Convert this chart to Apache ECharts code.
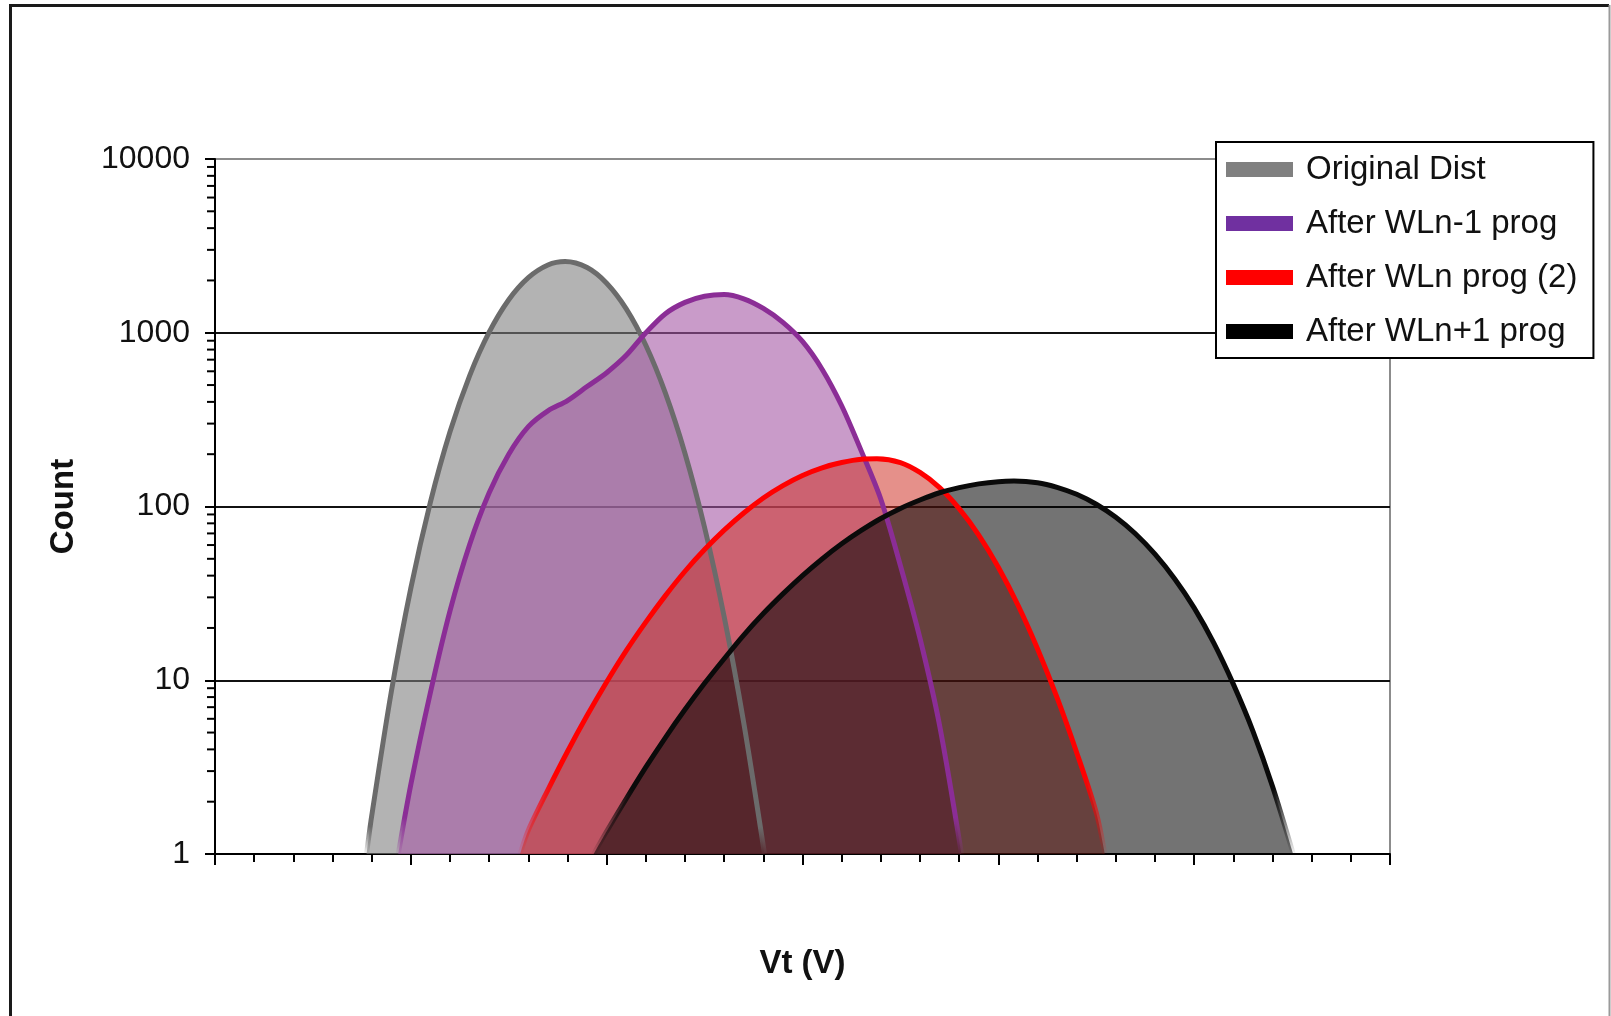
<!DOCTYPE html>
<html>
<head>
<meta charset="utf-8">
<script src="https://cdn.jsdelivr.net/npm/echarts@6/dist/echarts.min.js"></script>
<style>
  html, body { margin: 0; padding: 0; background: #fff; }
  #chart { width: 1611px; height: 1016px; }
</style>
</head>
<body>
<div id="chart"></div>
<script>
// Vt distributions: [Vt step, cell count]
const originalDist = [[3.87,1],[4.0,1.65],[4.5,8.55],[5.0,33.9],[5.5,106],[6.0,269],[6.5,565],[7.0,1007],[7.5,1549],[8.0,2075],[8.5,2455],[8.94,2570],[9.5,2373],[10.0,1928],[10.5,1372],[11.0,847],[11.5,449],[12.0,202],[12.5,75.7],[13.0,23.2],[13.5,5.69],[14.03,1]];
const afterWLnMinus1 = [[4.68,1],[5.0,2.51],[5.5,8.51],[6.0,25.1],[6.5,60.3],[7.0,120],[7.5,200],[8.0,288],[8.5,355],[9.0,407],[9.5,490],[10.0,589],[10.5,741],[11.0,1000],[11.5,1288],[12.0,1496],[12.5,1622],[13.0,1660],[13.5,1567],[14.0,1380],[14.5,1148],[15.0,891],[15.5,617],[16.0,380],[16.5,209],[17.0,110],[17.5,45.7],[18.0,17.4],[18.5,5.5],[19.06,1]];
const afterWLn2 = [[7.79,1],[8.0,1.37],[8.5,2.34],[9.0,3.89],[9.5,6.26],[10.0,9.77],[10.5,14.8],[11.0,21.6],[11.5,30.7],[12.0,42.4],[12.5,56.5],[13.0,73.1],[13.5,91.8],[14.0,112],[14.5,132],[15.0,151],[15.5,167],[16.0,179],[16.5,187],[16.9,188],[17.5,179],[18.0,157],[18.5,128.5],[19.0,97.3],[19.5,68.5],[20.0,44.7],[20.5,27.1],[21.0,15.2],[21.5,7.94],[22.0,3.84],[22.5,1.73],[22.72,1]];
const afterWLnPlus1 = [[9.67,1],[10.0,1.35],[10.5,2.08],[11.0,3.16],[11.5,4.68],[12.0,6.78],[12.5,9.6],[13.0,13.3],[13.5,18.2],[14.0,24.2],[14.5,31.4],[15.0,40],[15.5,49.9],[16.0,61],[16.5,72.8],[17.0,85.3],[17.5,97.5],[18.0,109],[18.5,120],[19.0,128.5],[19.5,135],[20.0,139],[20.4,140],[21.0,137],[21.5,129],[22.0,117.5],[22.5,103],[23.0,86.7],[23.5,69.7],[24.0,53.2],[24.5,38.4],[25.0,26.1],[25.5,16.4],[26.0,9.5],[26.5,5.1],[27.0,2.45],[27.53,1]];

const seriesNames = ['Original Dist', 'After WLn-1 prog', 'After WLn prog (2)', 'After WLn+1 prog'];
const seriesData = [originalDist, afterWLnMinus1, afterWLn2, afterWLnPlus1];

// Log axis: labelled decades and the 2..9 minor ticks inside each decade
const countDecades = [1, 10, 100, 1000];
const minorSteps = [2, 3, 4, 5, 6, 7, 8, 9];
const minorCountTicks = [];
countDecades.forEach(d => minorSteps.forEach(m => minorCountTicks.push(d * m)));

const FONT = 'Liberation Sans, Arial, Helvetica, sans-serif';

// Per-series look: outline colour, translucent fill, legend key, where the outline fades out
const looks = [
  { line: [107, 107, 107], fill: 'rgba(128,128,128,0.6)', key: '#808080', fade: 0.95 },
  { line: [139, 45, 150],  fill: 'rgba(165,88,165,0.6)',  key: '#7030a0', fade: 0.93 },
  { line: [255, 0, 0],     fill: 'rgba(207,50,39,0.54)',  key: '#ff0000', fade: 0.80 },
  { line: [10, 10, 10],    fill: 'rgba(0,0,0,0.55)',      key: '#000000', fade: 0.82 }
];

function rgba(c, a) { return 'rgba(' + c[0] + ',' + c[1] + ',' + c[2] + ',' + a + ')'; }

const SMOOTH = 0.3;
const series = [];
// filled areas first, stacked visually in series order
seriesNames.forEach((name, i) => {
  series.push({
    name: name,
    type: 'line',
    data: seriesData[i],
    smooth: SMOOTH,
    showSymbol: false,
    silent: true,
    z: 2 + i * 0.01,
    itemStyle: { color: looks[i].key },
    lineStyle: { width: 0, opacity: 0 },
    areaStyle: { color: looks[i].fill, opacity: 1, origin: 'start' }
  });
});
// outlines on top of every fill
seriesNames.forEach((name, i) => {
  const c = looks[i].line;
  series.push({
    name: name,
    type: 'line',
    data: seriesData[i],
    smooth: SMOOTH,
    showSymbol: false,
    silent: true,
    z: 3 + i * 0.01,
    itemStyle: { color: looks[i].key },
    lineStyle: {
      width: 5,
      color: new echarts.graphic.LinearGradient(0, 0, 0, 1, [
        { offset: 0, color: rgba(c, 1) },
        { offset: looks[i].fade, color: rgba(c, 1) },
        { offset: 1, color: rgba(c, 0) }
      ])
    }
  });
});
// minor ticks of the log axis
series.push({
  name: 'minor ticks',
  type: 'custom',
  silent: true,
  clip: false,
  z: 6,
  data: minorCountTicks.map(v => [0, v]),
  renderItem: (params, api) => {
    const p = api.coord([api.value(0), api.value(1)]);
    return {
      type: 'line',
      shape: { x1: p[0] - 8, y1: p[1], x2: p[0], y2: p[1] },
      style: { stroke: '#000', lineWidth: 2 }
    };
  }
});

const chart = echarts.init(document.getElementById('chart'), null, { renderer: 'canvas' });
chart.setOption({
  animation: false,
  backgroundColor: '#fff',
  grid: {
    left: 215, right: 221, top: 159, bottom: 162,
    show: true, backgroundColor: 'transparent',
    borderColor: '#8c8c8c', borderWidth: 2
  },
  legend: {
    orient: 'vertical',
    left: 1216, top: 142,
    padding: [11, 16, 10, 10],
    itemGap: 21,
    itemWidth: 67, itemHeight: 15,
    icon: 'rect',
    selectedMode: false,
    backgroundColor: '#fff',
    borderColor: '#000', borderWidth: 2,
    textStyle: { fontSize: 33, color: '#111', fontFamily: FONT, padding: [0, 0, 0, 8] },
    data: seriesNames.map((n, i) => ({ name: n, itemStyle: { color: looks[i].key } }))
  },
  xAxis: {
    type: 'value',
    min: 0, max: 30, interval: 5,
    name: 'Vt (V)',
    nameLocation: 'middle',
    nameGap: 93,
    nameTextStyle: { fontSize: 33, fontWeight: 'bold', color: '#111', fontFamily: FONT },
    axisLine: { show: true, onZero: false, lineStyle: { color: '#000', width: 2 } },
    axisTick: { show: true, inside: false, length: 11, lineStyle: { color: '#000', width: 2 } },
    minorTick: { show: true, splitNumber: 5, length: 8, lineStyle: { color: '#000', width: 2 } },
    axisLabel: { show: false },
    splitLine: { show: false },
    minorSplitLine: { show: false }
  },
  yAxis: {
    type: 'log',
    logBase: 10,
    min: 1, max: 10000,
    name: 'Count',
    nameLocation: 'middle',
    nameRotate: 90,
    nameGap: 135,
    nameTextStyle: { fontSize: 33, fontWeight: 'bold', color: '#111', fontFamily: FONT },
    axisLine: { show: true, lineStyle: { color: '#000', width: 2 } },
    axisTick: { show: true, inside: false, length: 10, lineStyle: { color: '#000', width: 2 } },
    axisLabel: { margin: 25, fontSize: 32, color: '#111', fontFamily: FONT, formatter: v => String(Math.round(v)) },
    splitLine: { show: true, showMinLine: false, showMaxLine: false, lineStyle: { color: '#111', width: 2 } }
  },
  graphic: [
    {
      type: 'polyline', silent: true, z: -1,
      shape: { points: [[10.5, 1016], [10.5, 5.5], [1609, 5.5]] },
      style: { fill: 'none', stroke: '#1a1a1a', lineWidth: 3 }
    },
    {
      type: 'line', silent: true, z: -1,
      shape: { x1: 1609.5, y1: 5, x2: 1609.5, y2: 1016 },
      style: { stroke: '#9a9a9a', lineWidth: 2 }
    }
  ],
  series: series
});
</script>
</body>
</html>
